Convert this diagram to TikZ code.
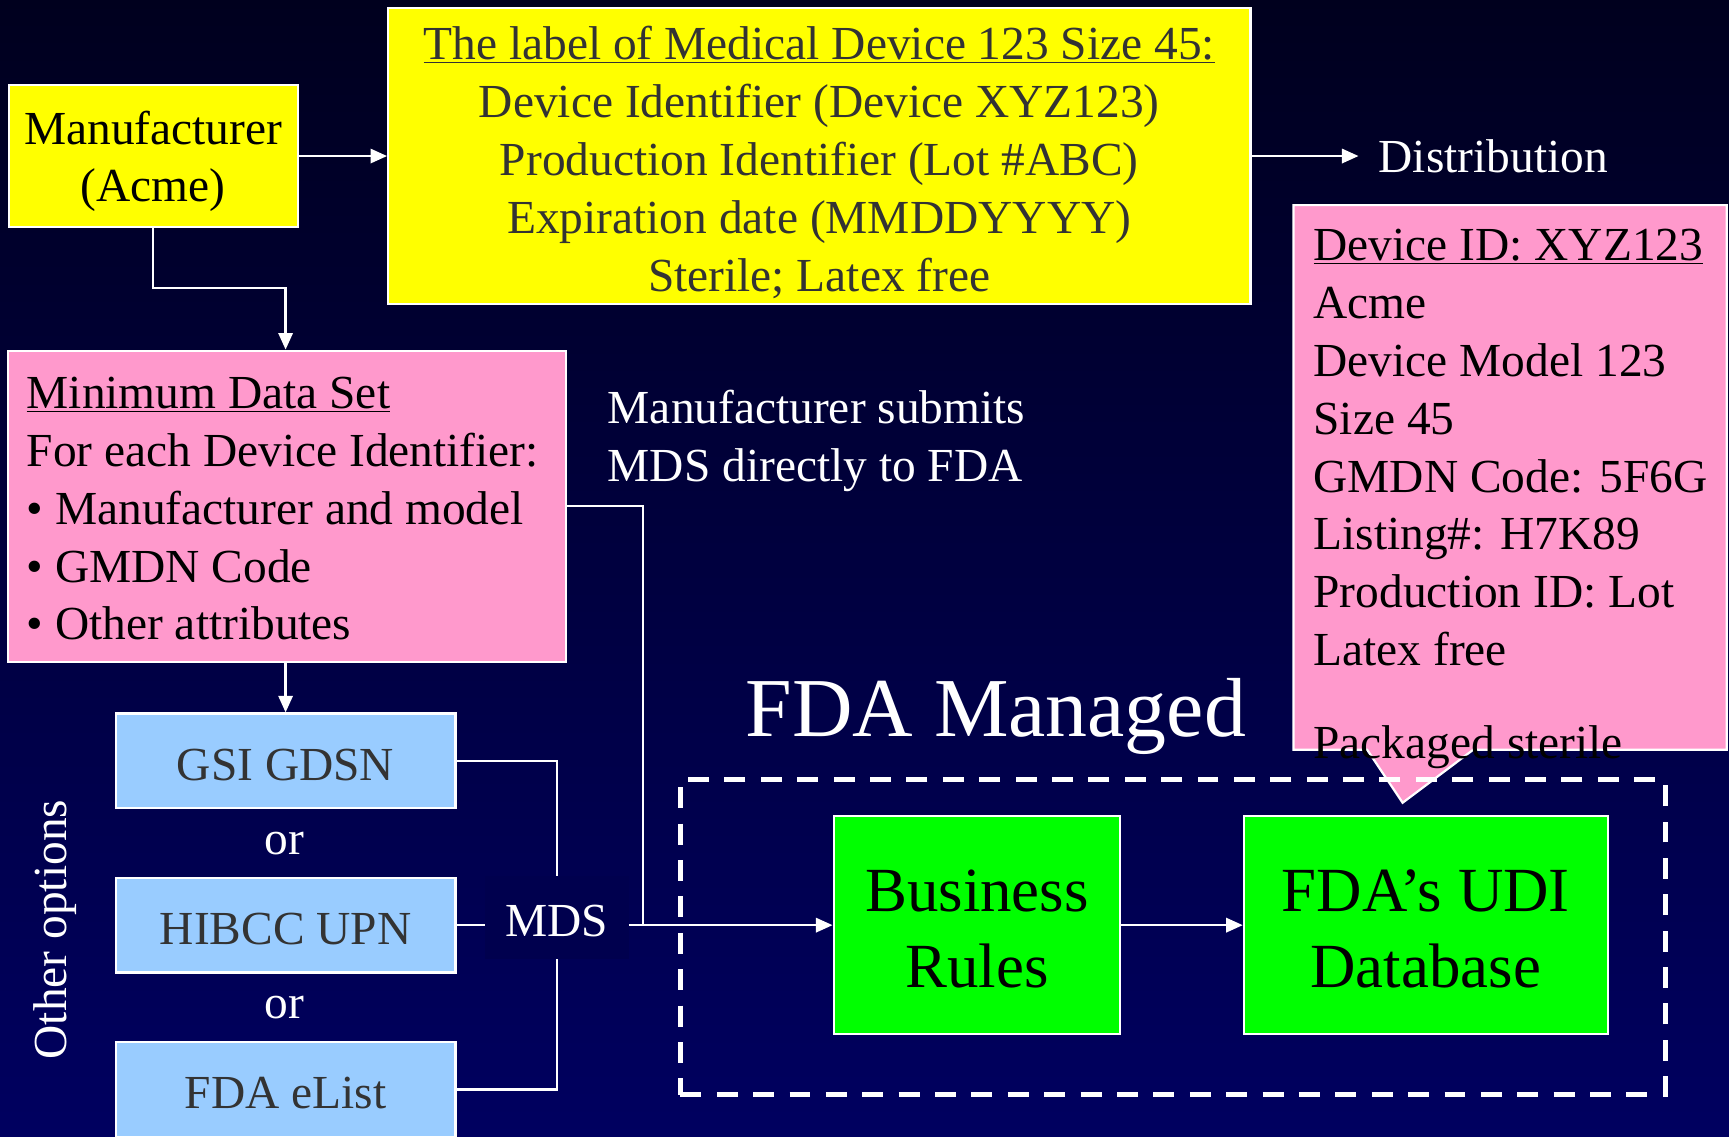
\documentclass[tikz,border=0pt]{standalone}
\usepackage{fontspec}
\setmainfont{Liberation Serif}
\usetikzlibrary{arrows.meta,shapes.callouts}
\definecolor{bgtop}{RGB}{0,0,30}
\definecolor{bgmid}{RGB}{0,0,74}
\definecolor{bgbot}{RGB}{0,0,96}
\definecolor{mdsbg}{RGB}{0,0,78}
\definecolor{yel}{RGB}{255,255,0}
\definecolor{pnk}{RGB}{255,153,204}
\definecolor{lblue}{RGB}{153,204,255}
\definecolor{grn}{RGB}{0,255,0}
\definecolor{dgray}{RGB}{51,51,51}
\begin{document}
\begin{tikzpicture}[x=1pt,y=-1pt,
  box/.style={draw=white, line width=2pt, inner sep=0pt, align=center},
  txt/.style={font=\fontsize{43}{52.4}\selectfont},
  bigtxt/.style={font=\fontsize{57}{69}\selectfont},
  onel/.style={text height=35pt, text depth=0pt},
  conn/.style={draw=white, line width=2pt},
  arr/.style={conn, -{Triangle[length=15pt,width=13pt]}},
]
\shade[top color=bgtop, middle color=bgmid, bottom color=bgbot] (0,0) rectangle (1568,1031);
\useasboundingbox (0,0) rectangle (1568,1031);

% top row
\node[box, fill=yel, txt, text=black, minimum width=262pt, minimum height=129pt] (manu) at (139,141.5) {\rule{0pt}{40pt}Manufacturer\\(Acme)};
\node[box, fill=yel, txt, text=dgray, minimum width=782pt, minimum height=269pt] (label) at (743,141.5)
  {\rule{0pt}{42pt}\underline{The label of Medical Device 123 Size 45:}\\Device Identifier (Device XYZ123)\\Production Identifier (Lot \#ABC)\\Expiration date (MMDDYYYY)\\Sterile; Latex free};
\node[txt, text=white, anchor=base west, inner xsep=18pt, inner ysep=0pt] (dist) at (1232,156) {Distribution};

% device id callout
\coordinate (tip) at (1272,728);
\node[rectangle callout, draw=white, line width=2pt, fill=pnk, minimum width=393pt, minimum height=494pt,
  callout absolute pointer=(tip), callout pointer width=96pt] (devid) at (1369.5,433) {};

% dashed FDA region
\node[draw=white, line width=4.5pt, dash pattern=on 19pt off 14pt, minimum width=893pt, minimum height=286pt, inner sep=0pt] (fdaregion) at (1063.5,850) {};

\node[txt, text=black, anchor=north west, align=left, inner sep=0pt] (devtext) at (1191,208)
  {\underline{Device ID: XYZ123}\\Acme\\Device Model 123\\Size 45\\GMDN Code: 5F6G\\Listing\#: H7K89\\Production ID: Lot\\Latex free\\[32pt]Packaged sterile};

% minimum data set
\node[box, fill=pnk, minimum width=506pt, minimum height=282pt] (mdsbox) at (260,459) {};
\node[txt, text=black, anchor=north west, align=left, inner sep=0pt] (mdstext) at (24,342)
  {\underline{Minimum Data Set}\\For each Device Identifier:\\\textbullet\ Manufacturer and model\\\textbullet\ GMDN Code\\\textbullet\ Other attributes};

\node[txt, text=white, anchor=west, align=left, inner sep=0pt] (submit) at (551,400) {Manufacturer submits\\MDS directly to FDA};

\node[text=white, font=\fontsize{76}{90}\selectfont, inner sep=0pt, anchor=base] (fdam) at (903,668) {FDA Managed};

% other options
\node[box, fill=lblue, txt, onel, text=dgray, minimum width=308pt, minimum height=86pt] (gsi) at (259,690) {GSI GDSN};
\node[txt, text=white] (or1) at (258,765) {or};
\node[box, fill=lblue, txt, onel, text=dgray, minimum width=308pt, minimum height=86pt] (hibcc) at (259,839) {HIBCC UPN};
\node[txt, text=white] (or2) at (258,914) {or};
\node[box, fill=lblue, txt, onel, text=dgray, minimum width=308pt, minimum height=86pt] (elist) at (259,988) {FDA eList};
\node[txt, text=white, rotate=90] (other) at (50,843) {Other options};

\node[txt, onel, text=white, fill=mdsbg, minimum width=130pt, minimum height=75pt, inner sep=0pt] (mds) at (505,832) {MDS};

% green boxes
\node[box, fill=grn, bigtxt, text=black, minimum width=260pt, minimum height=198pt] (br) at (886,839) {\rule{0pt}{44pt}Business\\Rules};
\node[box, fill=grn, bigtxt, text=black, minimum width=330pt, minimum height=198pt] (udi) at (1293,839) {\rule{0pt}{44pt}FDA’s UDI\\Database};

% connectors
\coordinate (bend) at (259,261);
\coordinate (junc) at (583,839);
\draw[arr] (manu.east) -- (manu.east -| label.west);
\draw[arr] (label.east) -- (label.east -| dist.west);
\draw[arr] (manu.south) |- (bend) -- (bend |- mdsbox.north);
\draw[arr] (gsi.north |- mdsbox.south) -- (gsi.north);
\draw[conn] (mdsbox.east) -| (junc);
\draw[conn] (gsi.east) -| (mds.north);
\draw[conn] (hibcc.east) -- (hibcc.east -| mds.west);
\draw[conn] (elist.east) -| (mds.south);
\draw[arr] (mds.east |- br.west) -- (br.west);
\draw[arr] (br.east) -- (udi.west);
\end{tikzpicture}
\end{document}
